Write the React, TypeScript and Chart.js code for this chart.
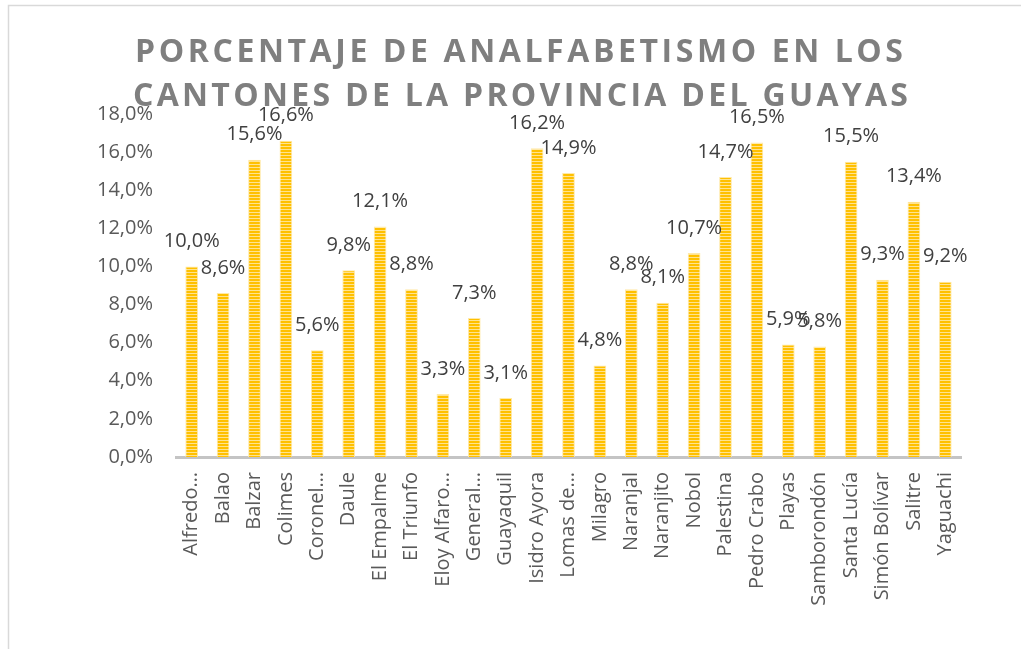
import React, { useEffect, useRef } from "react";
import { Chart, registerables } from "chart.js";

Chart.register(...registerables);

const titleLines = ["PORCENTAJE DE ANALFABETISMO EN LOS", "CANTONES DE LA PROVINCIA DEL GUAYAS"];

const cantones = [
  "Alfredo…", "Balao", "Balzar", "Colimes", "Coronel…", "Daule", "El Empalme", "El Triunfo",
  "Eloy Alfaro…", "General…", "Guayaquil", "Isidro Ayora", "Lomas de…", "Milagro", "Naranjal",
  "Naranjito", "Nobol", "Palestina", "Pedro Crabo", "Playas", "Samborondón", "Santa Lucía",
  "Simón Bolívar", "Salitre", "Yaguachi",
];

const analfabetismo = [
  10.0, 8.6, 15.6, 16.6, 5.6, 9.8, 12.1, 8.8, 3.3, 7.3, 3.1, 16.2, 14.9, 4.8, 8.8, 8.1, 10.7,
  14.7, 16.5, 5.9, 5.8, 15.5, 9.3, 13.4, 9.2,
];

const yMin = 0;
const yMax = 18;
const yStep = 2;

const fmt = (v: number) => v.toFixed(1).replace(".", ",") + "%";

function makePattern(): CanvasPattern | string {
  const c = document.createElement("canvas");
  c.width = 4;
  c.height = 3;
  const g = c.getContext("2d");
  if (!g) return "#FFC000";
  g.fillStyle = "#FFC000";
  g.fillRect(0, 0, 4, 3);
  g.fillStyle = "#FFE38F";
  g.fillRect(0, 2, 4, 1);
  const p = g.createPattern(c, "repeat");
  return p || "#FFC000";
}

const framePlugin = {
  id: "frame",
  beforeDraw(chart: any) {
    const ctx = chart.ctx;
    ctx.save();
    ctx.fillStyle = "#ffffff";
    ctx.fillRect(0, 0, chart.width, chart.height);
    ctx.strokeStyle = "#d9d9d9";
    ctx.lineWidth = 1.5;
    ctx.strokeRect(8.5, 5.5, chart.width + 20, chart.height + 20);
    ctx.restore();
  },
};

const titlePlugin = {
  id: "spacedTitle",
  afterDraw(chart: any) {
    const ctx = chart.ctx;
    ctx.save();
    ctx.font = "bold 32px 'Open Sans'";
    ctx.fillStyle = "#7f7f7f";
    ctx.textBaseline = "alphabetic";
    ctx.textAlign = "left";
    const targets = [
      { w: 768, cx: 519, y: 62 },
      { w: 775, cx: 520.5, y: 106 },
    ];
    titleLines.forEach((line, i) => {
      (ctx as any).letterSpacing = "0px";
      const w = ctx.measureText(line).width;
      const n = line.length;
      const sp = (targets[i].w - w) / (n - 1);
      (ctx as any).letterSpacing = sp + "px";
      const total = w + sp * (n - 1);
      ctx.fillText(line, targets[i].cx - total / 2, targets[i].y);
    });
    (ctx as any).letterSpacing = "0px";
    ctx.restore();
  },
};

const labelPlugin = {
  id: "barLabels",
  afterDatasetsDraw(chart: any) {
    const ctx = chart.ctx;
    const meta = chart.getDatasetMeta(0);
    const data = chart.data.datasets[0].data as number[];
    ctx.save();
    ctx.font = "20px 'Open Sans'";
    ctx.fillStyle = "#404040";
    ctx.textAlign = "center";
    ctx.textBaseline = "middle";
    meta.data.forEach((el: any, i: number) => {
      ctx.fillText(fmt(data[i]), el.x, el.y - 25);
    });
    ctx.restore();
  },
};

export default function App() {
  const ref = useRef<HTMLCanvasElement | null>(null);

  useEffect(() => {
    if (!ref.current) return;
    const chart = new Chart(ref.current, {
      type: "bar",
      data: {
        labels: cantones,
        datasets: [
          {
            data: analfabetismo,
            backgroundColor: makePattern() as any,
            borderColor: "#FFE9A8",
            borderWidth: 1,
            categoryPercentage: 1,
            barPercentage: 0.405,
          },
        ],
      },
      options: {
        animation: false,
        responsive: false,
        devicePixelRatio: 1,
        layout: { padding: { top: 114, left: 0, right: 60, bottom: 0 } },
        plugins: {
          legend: { display: false },
          title: { display: false },
          tooltip: { enabled: false },
        },
        scales: {
          x: {
            grid: { display: false, drawTicks: false },
            border: { display: true, color: "#c4c4c4", width: 3 },
            ticks: {
              autoSkip: false,
              maxRotation: 90,
              minRotation: 90,
              padding: 15,
              color: "#595959",
              font: { family: "'Open Sans'", size: 20 },
            },
            afterFit: (s: any) => {
              s.height = 192;
            },
          },
          y: {
            min: yMin,
            max: yMax,
            grid: { display: false, drawTicks: false },
            border: { display: false },
            ticks: {
              stepSize: yStep,
              padding: 23,
              color: "#595959",
              font: { family: "'Open Sans'", size: 20 },
              callback: (v: any) => fmt(Number(v)),
            },
            afterFit: (s: any) => {
              s.width = 176;
            },
          },
        },
      },
      plugins: [framePlugin, labelPlugin, titlePlugin],
    });
    return () => chart.destroy();
  }, []);

  return (
    <div style={{ position: "absolute", left: 0, top: 0, width: 1021, height: 649, overflow: "hidden" }}>
      <canvas ref={ref} width={1021} height={649} style={{ display: "block" }} />
    </div>
  );
}
